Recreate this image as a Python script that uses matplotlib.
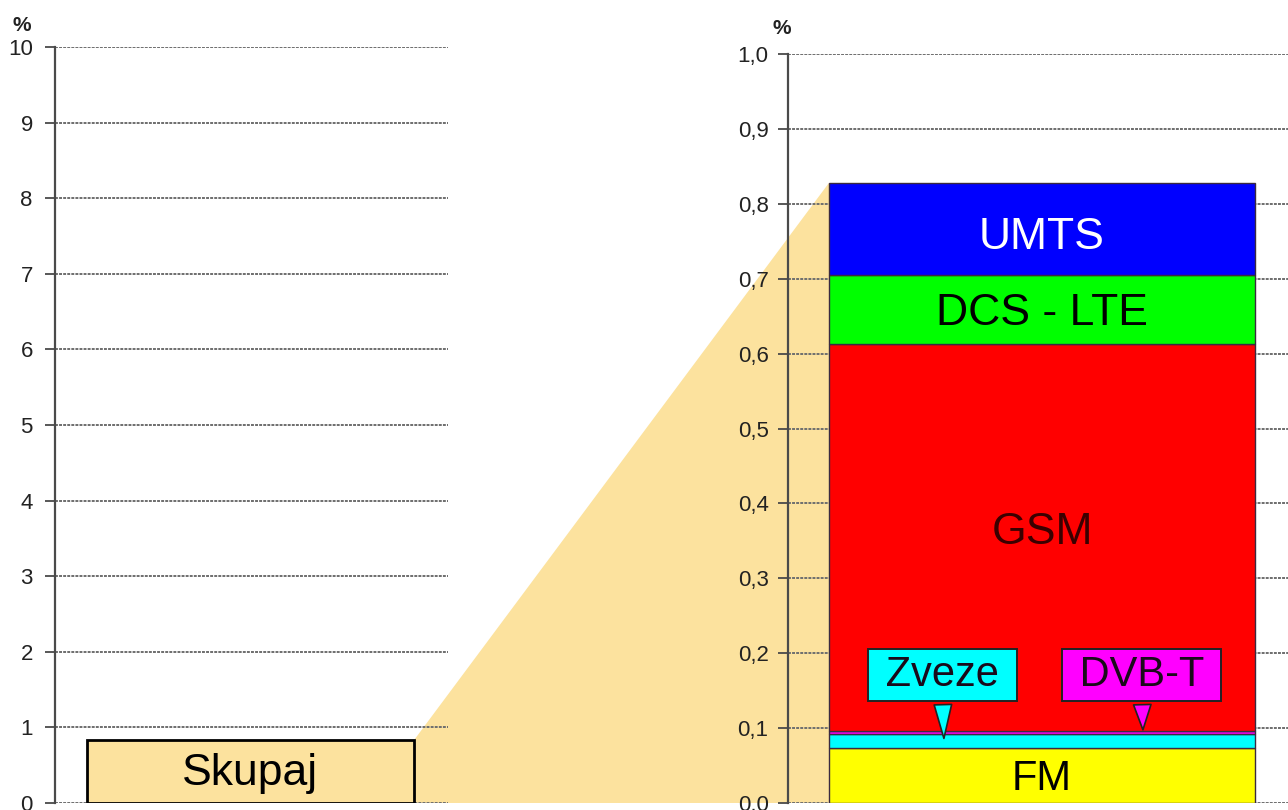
import matplotlib.pyplot as plt
import matplotlib.ticker as ticker
from matplotlib.patches import Polygon

plt.rcParams['font.family'] = ['Liberation Sans', 'DejaVu Sans']

# Share of exposure limit per service (%)
services = ['FM', 'Zveze', 'DVB-T', 'GSM', 'DCS - LTE', 'UMTS']
shares = [0.073, 0.019, 0.004, 0.517, 0.092, 0.123]
colors = ['#FFFF00', '#00FFFF', '#FF00FF', '#FF0000', '#00FF00', '#0000FF']
total_label = 'Skupaj'
total = sum(shares)

left_ticks = list(range(0, 11))
right_ticks = [i / 10 for i in range(0, 11)]

W, H = 1288, 810
fig = plt.figure(figsize=(W / 100, H / 100), dpi=100)
fig.patch.set_facecolor('white')


def px_axes(x0, x1, y_top, y_bot):
    return fig.add_axes([x0 / W, (H - y_bot) / H, (x1 - x0) / W, (y_bot - y_top) / H])


ax1 = px_axes(55, 448, 47, 803)
ax2 = px_axes(788, 1288, 54, 803)

grid_kw = dict(color='#6e6e6e', linewidth=1.4, linestyle=(0, (1.5, 0.6)))


def style_axis(ax, ymax, ticks, fmt, pad):
    ax.set_facecolor('none')
    ax.set_xlim(0, 1)
    ax.set_ylim(0, ymax)
    ax.set_yticks(ticks)
    ax.yaxis.set_major_formatter(ticker.FuncFormatter(fmt))
    ax.set_xticks([])
    for s in ['top', 'right', 'bottom']:
        ax.spines[s].set_visible(False)
    ax.spines['left'].set_color('#4a4a4a')
    ax.spines['left'].set_linewidth(1.6)
    ax.tick_params(axis='y', length=7, width=1.3, color='#4a4a4a',
                   labelsize=16, labelcolor='#222222', pad=pad)
    for t in ticks:
        ax.axhline(t, zorder=0.5, **grid_kw)


style_axis(ax1, 10, left_ticks, lambda v, p: f'{v:.0f}', 9)
style_axis(ax2, 1.0, right_ticks, lambda v, p: f'{v:.1f}'.replace('.', ','), 7)

ax1.text(-0.085, 1.029, '%', transform=ax1.transAxes, fontsize=15,
         fontweight='bold', ha='center', va='center', color='#222222')
ax2.text(-0.012, 1.034, '%', transform=ax2.transAxes, fontsize=15,
         fontweight='bold', ha='center', va='center', color='#222222')

# Total bar on the left
fill = '#FCE29E'
ax1.bar(0.081, total, width=0.832, align='edge', color=fill,
        edgecolor='black', linewidth=2, zorder=2)
ax1.text(0.081 + 0.832 / 2, total / 2 - 0.02, total_label, ha='center', va='center',
         fontsize=32, zorder=3)

# Stacked breakdown on the right
bx, bw = 0.082, 0.852
bottom = 0
for name, val, col in zip(services, shares, colors):
    ax2.bar(bx, val, width=bw, bottom=bottom, align='edge', color=col,
            edgecolor='#3a2a40', linewidth=1, zorder=2)
    bottom += val

cx = bx + bw / 2
base = [sum(shares[:i]) for i in range(len(shares))]
ax2.text(cx, shares[0] / 2 - 0.004, 'FM', ha='center', va='center', fontsize=30, zorder=3)
ax2.text(cx, base[3] + shares[3] / 2 + 0.007, 'GSM', ha='center', va='center', fontsize=32,
         color='#3a0000', zorder=3)
ax2.text(cx, base[4] + shares[4] / 2 - 0.005, 'DCS - LTE', ha='center', va='center',
         fontsize=32, zorder=3)
ax2.text(cx, base[5] + shares[5] / 2 - 0.012, 'UMTS', ha='center', va='center',
         fontsize=32, color='white', zorder=3)

# Callouts for the thin layers
for i, xt, xp in [(1, 0.308, 0.312), (2, 0.707, 0.71)]:
    ax2.annotate(' ' + services[i] + ' ', xy=(xp, base[i] + shares[i] / 2),
                 xytext=(xt, 0.171), ha='center', va='center', fontsize=30,
                 color='#1a0a1a', zorder=5,
                 bbox=dict(boxstyle='square,pad=0.15', fc=colors[i], ec='#222222', lw=1.4),
                 arrowprops=dict(arrowstyle='wedge,tail_width=0.42,shrink_factor=0.5',
                                 fc=colors[i], ec='#222222', lw=1.2))

# Zoom wedge linking the total bar to the breakdown
fig.canvas.draw()
to_fig = fig.transFigure.inverted()
p_a = to_fig.transform(ax1.transData.transform((0.913, 0)))
p_b = to_fig.transform(ax1.transData.transform((0.913, total)))
p_c = to_fig.transform(ax2.transData.transform((bx, total)))
p_d = to_fig.transform(ax2.transData.transform((bx, 0)))
fig.patches.append(Polygon([p_a, p_b, p_c, p_d], closed=True, transform=fig.transFigure,
                           facecolor=fill, edgecolor='none', zorder=-1, figure=fig))

fig.savefig('out.png', dpi=100)
